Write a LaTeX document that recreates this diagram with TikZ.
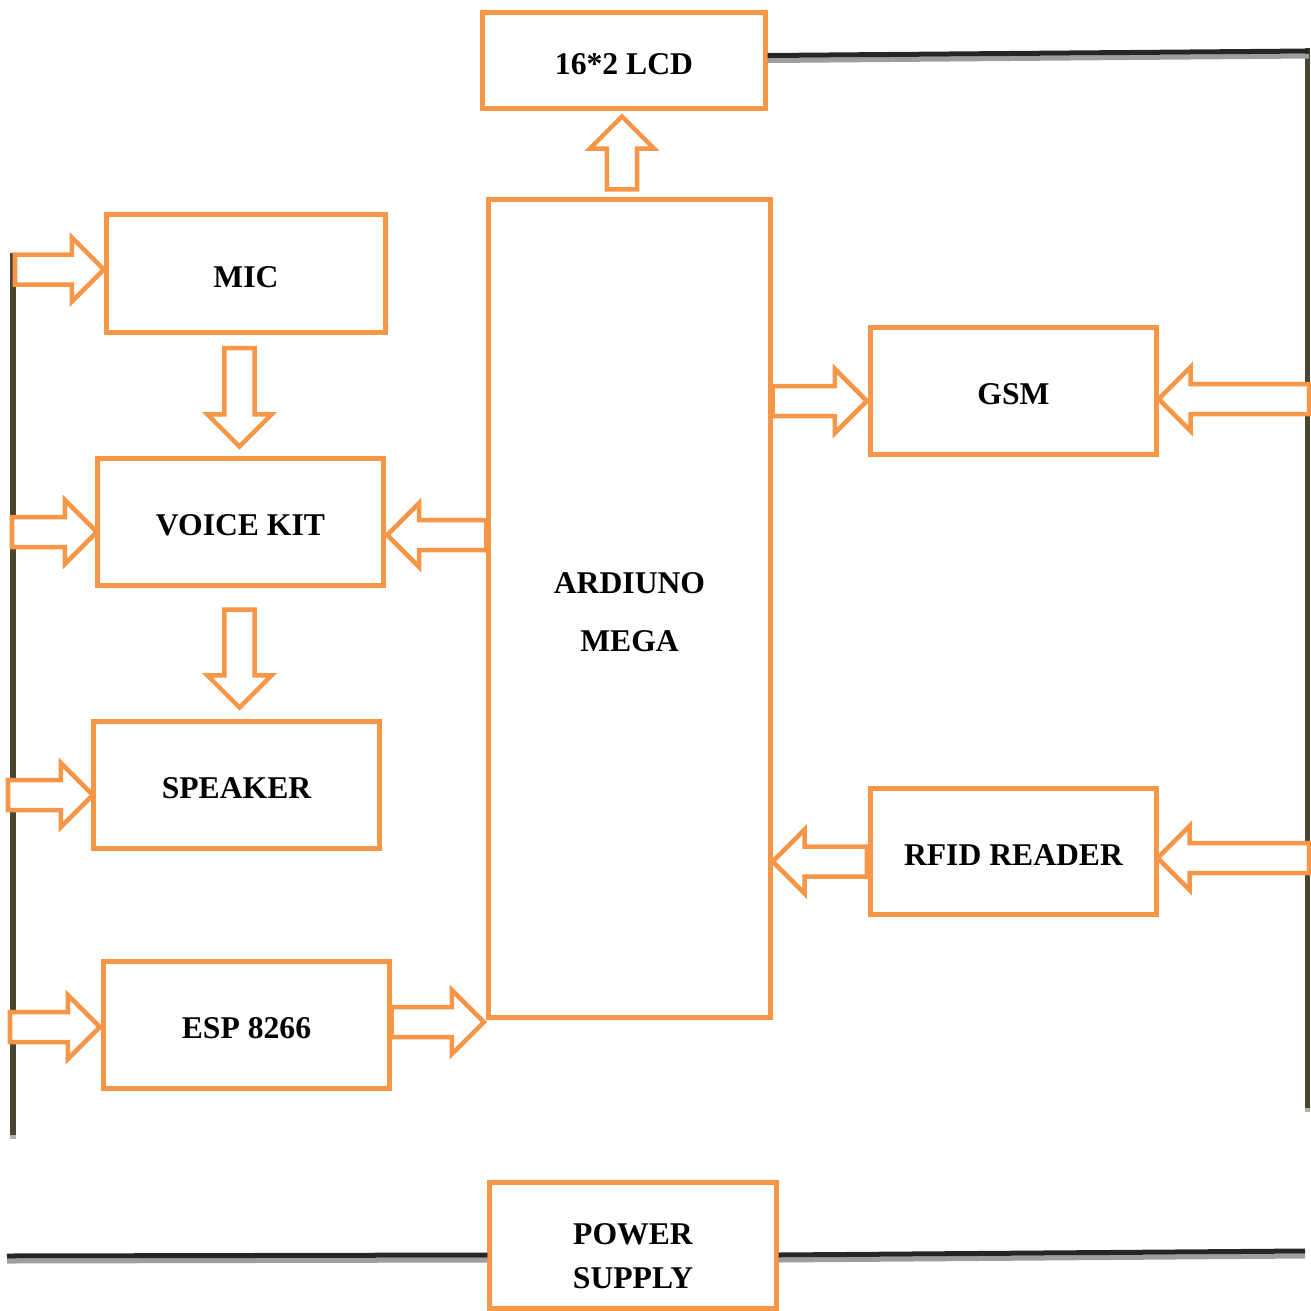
\documentclass[tikz,border=0pt]{standalone}
\usepackage{fontspec}
\setmainfont{Liberation Serif}
\usetikzlibrary{calc}

\definecolor{boxorange}{HTML}{F79646}
\definecolor{wiredark}{HTML}{262626}
\definecolor{busolive}{HTML}{4A4530}

% hollow block arrow from #1 (tail) to #2 (tip)
\newcommand{\blockarrow}[2]{%
  \coordinate (ba-a) at (#1);
  \coordinate (ba-b) at (#2);
  \coordinate (ba-c) at ($(ba-b)!0.32cm!(ba-a)$);
  \draw[barrow] ($(ba-a)!0.15cm!90:(ba-b)$) -- ($(ba-c)!0.15cm!-90:(ba-a)$)
    -- ($(ba-c)!0.32cm!-90:(ba-a)$) -- (ba-b) -- ($(ba-c)!0.32cm!90:(ba-a)$)
    -- ($(ba-c)!0.15cm!90:(ba-a)$) -- ($(ba-a)!0.15cm!-90:(ba-b)$) -- cycle;
}

\begin{document}
\begin{tikzpicture}[
x=0.01cm, y=-0.01cm,
box/.style={
rectangle,draw=boxorange,line width=0.05cm,
align=center,inner sep=0pt,
font=\fontsize{9}{12.5}\selectfont\bfseries,
minimum width=2.85cm,
minimum height=1.26cm
},
barrow/.style={draw=boxorange,line width=0.045cm,fill=white,line join=miter},
wire/.style={draw=wiredark,line width=0.05cm,
preaction={draw=black!38,line width=0.05cm,transform canvas={yshift=-0.05cm}}},
bus/.style={draw=busolive,line width=0.05cm,
preaction={draw=black!30,line width=0.05cm,transform canvas={yshift=-0.04cm}}}
]
\useasboundingbox (0,0) rectangle (1311,1311);

% =======================
% BLOCKS
% =======================

\node[box,minimum width=2.82cm,minimum height=0.95cm,text height=8pt] (lcd) at (624,60.5) {16*2 LCD};

\node[box,minimum width=2.79cm,minimum height=1.18cm,text height=8pt] (mic) at (246,273.5) {MIC};
\node[box,text height=8pt] (voice) at (240.5,522) {VOICE KIT};
\node[box,text height=8pt] (speaker) at (236.5,785) {SPEAKER};
\node[box,text height=8pt] (esp) at (246.5,1025) {ESP 8266};

\node[box,minimum width=2.81cm,minimum height=8.17cm] (arduino) at (629.5,608.5)
{\rule{0pt}{8pt}ARDIUNO\\[4pt]MEGA};

\node[box,text height=8pt] (gsm) at (1013.5,391) {GSM};
\node[box,text height=8pt] (rfid) at (1013.5,851.5) {RFID READER};

\node[box,minimum width=2.86cm] (power) at (633,1245.5) {\rule{0pt}{12pt}POWER\\SUPPLY};

% =======================
% SUPPLY WIRES
% =======================

\coordinate (lbus-top) at (13,253);
\coordinate (lbus-bot) at (13,1135);
\coordinate (rbus-top) at (1307,48);
\coordinate (rbus-bot) at (1307,1108);
\coordinate (lcd-wire) at (1309,51);
\coordinate (pwr-left) at (7,1256);
\coordinate (pwr-right) at (1305,1251);

\draw[bus] (lbus-top) -- (lbus-bot);
\draw[bus] (rbus-top) -- (rbus-bot);
\draw[wire] ($(lcd.east)+(0,-5)$) -- (lcd-wire);
\draw[wire] (pwr-left) -- ($(power.west)+(0,9.5)$);
\draw[wire] ($(power.east)+(0,9.5)$) -- (pwr-right);

% =======================
% ARROWS
% =======================

\blockarrow{$(arduino.north)+(-7.5,-8)$}{$(lcd.south)+(-2,6)$}

\blockarrow{$(mic.south)+(-6.5,13)$}{$(voice.north)+(-1,-10)$}
\blockarrow{$(voice.south)+(-1,22)$}{$(speaker.north)+(3,-12)$}

\blockarrow{$(lbus-top|-mic.west)+(2,-4)$}{$(mic.west)+(0,-4)$}
\blockarrow{$(lbus-top|-voice.west)+(-1,10)$}{$(voice.west)+(1.5,10)$}
\blockarrow{$(lbus-top|-speaker.west)+(-5,10)$}{$(speaker.west)+(1.5,10)$}
\blockarrow{$(lbus-top|-esp.west)+(-3,2)$}{$(esp.west)+(-1.5,2)$}

\blockarrow{$(arduino.west|-voice.east)+(0,13)$}{$(voice.east)+(1.5,13)$}
\blockarrow{$(esp.east)+(0,-3)$}{$(arduino.west|-esp.east)+(-2.5,-3)$}

\blockarrow{$(arduino.east|-gsm.west)+(0,10)$}{$(gsm.west)+(-1.5,10)$}
\blockarrow{$(rbus-top|-gsm.east)+(2,8)$}{$(gsm.east)+(0,8)$}
\blockarrow{$(rfid.west)+(-1.5,10)$}{$(arduino.east|-rfid.west)+(0,10)$}
\blockarrow{$(rbus-top|-rfid.east)+(2,6.5)$}{$(rfid.east)+(-1,6.5)$}

\end{tikzpicture}
\end{document}
